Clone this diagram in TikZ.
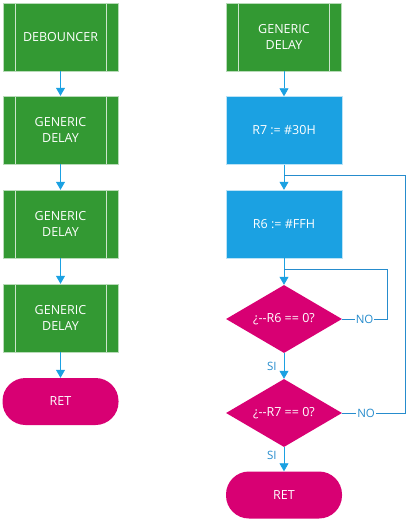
\documentclass[tikz,border=0pt]{standalone}
\usepackage{fontspec}
\setmainfont{Open Sans}
\usetikzlibrary{arrows.meta,shapes.geometric}
\definecolor{procgreen}{RGB}{51,153,51}
\definecolor{opblue}{RGB}{27,161,226}
\definecolor{decmag}{RGB}{216,0,115}
\definecolor{linkblue}{RGB}{38,140,205}

\begin{document}
\begin{tikzpicture}[x=1pt,y=-1pt,
  every node/.style={font=\fontsize{12.5}{16}\selectfont},
  subproc/.style={rectangle,fill=procgreen,draw=white!65!procgreen,text=white,
    minimum width=115pt,minimum height=68pt,inner sep=0pt,align=center,
    path picture={
      \draw[white!75!procgreen,line width=0.8pt]
        ([xshift=12pt]path picture bounding box.north west) -- ([xshift=12pt]path picture bounding box.south west)
        ([xshift=-12pt]path picture bounding box.north east) -- ([xshift=-12pt]path picture bounding box.south east);}},
  opbox/.style={rectangle,fill=opblue,draw=white!70!opblue,text=white,
    minimum width=116pt,minimum height=68pt,inner sep=0pt},
  decide/.style={diamond,aspect=1.7,fill=decmag,text=white,
    minimum width=116pt,minimum height=68pt,inner sep=0pt},
  term/.style={rectangle,rounded corners=23pt,fill=decmag,text=white,
    minimum width=116pt,minimum height=47pt,inner sep=0pt},
  flow/.style={draw=opblue,line width=0.8pt,-{Triangle[width=9pt,length=8pt]}},
  link/.style={draw=linkblue,line width=0.7pt},
  tag/.style={text=linkblue,font=\fontsize{11.5}{13}\selectfont,inner sep=1pt}]
\useasboundingbox (0,0) rectangle (407,521);
% left column
\node (deb) [subproc] at (60.5,37) {DEBOUNCER};
\node (gd1) [subproc] at (60.5,130) {GENERIC\\DELAY};
\node (gd2) [subproc] at (60.5,224) {GENERIC\\DELAY};
\node (gd3) [subproc] at (60.5,318) {GENERIC\\DELAY};
\node (ret1) [term] at (60.5,401.5) {RET};
%
\path[flow] (deb) -- (gd1);
\path[flow] (gd1) -- (gd2);
\path[flow] (gd2) -- (gd3);
\path[flow] (gd3) -- (ret1);
% right column
\node (gd4) [subproc] at (284,37) {GENERIC\\DELAY};
\node (r7) [opbox] at (284,130.5) {R7 := \#30H};
\node (r6) [opbox] at (284,224) {R6 := \#FFH};
\node (dec6) [decide] at (284,319) {¿-{}-R6 == 0?};
\node (dec7) [decide] at (284,413) {¿-{}-R7 == 0?};
\node (ret2) [term] at (284,495) {RET};
%
\coordinate (j7) at (284,175);
\coordinate (j6) at (284,269);
\coordinate (c6) at (387,319);
\coordinate (c7) at (405,413);
%
\path[flow] (gd4) -- (r7);
\path[flow] (r7) -- (r6);
\path[flow] (r6) -- (dec6);
\path[flow] (dec6) -- node[tag,left=6pt] {SI} (dec7);
\path[flow] (dec7) -- node[tag,left=6pt,pos=0.35] {SI} (ret2);
%
\draw[link] (dec6.east) -- node[tag,fill=white] {NO} (c6) |- (j6);
\draw[link] (dec7.east) -- node[tag,fill=white,pos=0.38] {NO} (c7) |- (j7);
\end{tikzpicture}
\end{document}
